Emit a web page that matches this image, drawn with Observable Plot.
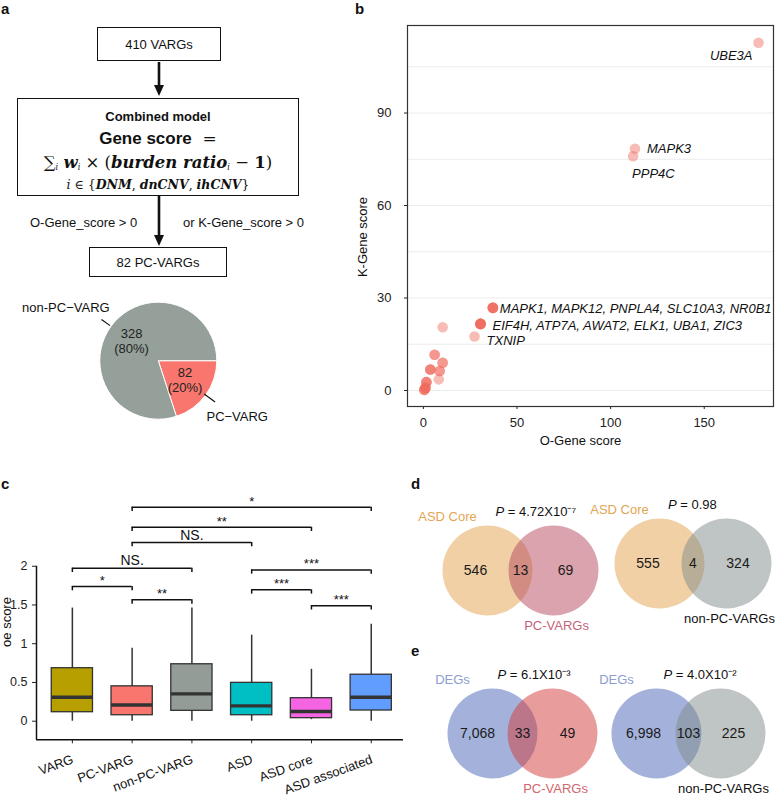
<!DOCTYPE html>
<html><head><meta charset="utf-8">
<script src="https://cdn.jsdelivr.net/npm/d3@7"></script>
<script src="https://cdn.jsdelivr.net/npm/@observablehq/plot@0.6"></script>
<style>
body{margin:0;background:#fff;font-family:"Liberation Sans",Arial,sans-serif;color:#111;}
#root{position:relative;width:776px;height:797px;overflow:hidden;background:#fff;}
.wrap{position:absolute;}
.wrap svg{max-width:none;display:block;}
.box{position:absolute;box-sizing:border-box;border:1.5px solid #111;display:flex;align-items:center;justify-content:center;font-size:13px;color:#111;background:#fff;}
.ln{position:absolute;left:0;width:100%;text-align:center;white-space:nowrap;transform:translateY(-50%);line-height:1;}
.txt{position:absolute;white-space:nowrap;font-size:13px;color:#111;transform:translateY(-50%);line-height:1;}
.vlab{position:absolute;white-space:nowrap;font-size:13px;color:#111;line-height:1;transform:translate(-50%,-50%) rotate(-90deg);}
.m{font-family:"DejaVu Serif",serif;}
.m sub{font-size:0.5em;vertical-align:-0.25em;font-style:italic;font-weight:normal;}
</style></head><body><div id="root"></div>
<script>
// ---------------- Panel a : pie data ----------------
const pieLabels = ["PC\u2212VARG", "non-PC\u2212VARG"];
const pieValues = [82, 328];
const pieColors = ["#F8766D", "#95A09A"];

// ---------------- Panel b : scatter data ----------------
const bGenes = ["UBE3A","MAPK3","PPP4C",
  "MAPK1","MAPK12","PNPLA4","SLC10A3","NR0B1",
  "EIF4H","ATP7A","AWAT2","ELK1","UBA1","ZIC3",
  "TXNIP",
  "", "", "", "", "", "", "", "", "", "", "", "", "", "", "", "", "", "", "", ""];
const bOScore = [179, 113, 112,
  37.1, 37.1, 37.1, 37.1, 37.1,
  30.5, 30.5, 30.5, 30.5, 30.5, 30.5,
  27.3,
  10.3, 6.0, 6.0, 10.3, 10.3, 3.7, 3.7, 3.7, 8.7, 8.7, 8.2, 1.6, 1.6, 1.6, 1.1, 1.1, 1.1, 0.5, 0.5, 0.5];
const bKScore = [112.8, 78.4, 76.0,
  26.8, 26.8, 26.8, 26.8, 26.8,
  21.6, 21.6, 21.6, 21.6, 21.6, 21.6,
  17.5,
  20.5, 11.6, 11.6, 9.0, 9.0, 6.8, 6.8, 6.8, 6.3, 6.3, 3.6, 2.7, 2.7, 2.7, 0.9, 0.9, 0.9, 0.2, 0.2, 0.2];
const bXTicks = [0, 50, 100, 150];
const bYTicks = [0, 30, 60, 90];

// ---------------- Panel c : box plot data ----------------
const cCategories = ["VARG", "PC-VARG", "non-PC-VARG", "ASD", "ASD core", "ASD associated"];
const cLowerWhisker = [0, 0, 0, 0, 0.02, 0];
const cQ1 = [0.116, 0.077, 0.134, 0.077, 0.039, 0.138];
const cMedian = [0.31, 0.21, 0.353, 0.198, 0.125, 0.31];
const cQ3 = [0.684, 0.45, 0.735, 0.495, 0.297, 0.60];
const cUpperWhisker = [1.46, 0.94, 1.46, 1.11, 0.67, 1.25];
const cColors = ["#B79F00", "#F8766D", "#949C97", "#00BFC4", "#F564E3", "#619CFF"];
const cYTicks = [0, 0.5, 1, 1.5, 2];
const cCompFrom = ["VARG", "PC-VARG", "VARG", "ASD", "ASD core", "ASD", "PC-VARG", "PC-VARG", "PC-VARG"];
const cCompTo = ["PC-VARG", "non-PC-VARG", "non-PC-VARG", "ASD core", "ASD associated", "ASD associated", "ASD", "ASD core", "ASD associated"];
const cCompHeight = [1.738, 1.566, 1.974, 1.695, 1.49, 1.953, 2.306, 2.503, 2.761];
const cCompLabel = ["*", "**", "NS.", "***", "***", "***", "NS.", "**", "*"];

// ---------------- Panels d, e : Venn data ----------------
const vennSetA = ["ASD Core", "ASD Core", "DEGs", "DEGs"];
const vennSetB = ["PC-VARGs", "non-PC-VARGs", "PC-VARGs", "non-PC-VARGs"];
const vennOnlyA = [546, 555, 7068, 6998];
const vennBoth = [13, 4, 33, 103];
const vennOnlyB = [69, 324, 49, 225];
const vennP = ["4.72X10\u207B\u2077", "0.98", "6.1X10\u207B\u00B3", "4.0X10\u207B\u00B2"];

// ================= layout helpers =================
const root = document.getElementById("root");
const FONT = "Liberation Sans, Arial, sans-serif";
function place(node, left, top, w, h) {
  const d = document.createElement("div");
  d.className = "wrap";
  d.style.left = left + "px"; d.style.top = top + "px";
  d.style.width = w + "px"; d.style.height = h + "px";
  d.appendChild(node);
  root.appendChild(d);
  return d;
}
function html(str) { root.insertAdjacentHTML("beforeend", str); }

// ================= Panel a : flowchart =================
html(`<div class="box" style="left:97px;top:27px;width:124px;height:34px;">410 VARGs</div>`);
html(`<div class="box" style="left:17px;top:98px;width:282px;height:98px;display:block;">
  <div class="ln" style="top:17px;font-weight:bold;font-size:13px;">Combined model</div>
  <div class="ln" style="top:38.5px;"><span style="font-weight:bold;font-size:17px;">Gene score</span><span class="m" style="font-size:17px;">&nbsp;&nbsp;=</span></div>
  <div class="ln m" style="top:63.5px;font-size:16.5px;">&sum;<sub>i</sub> <b><i>w</i></b><sub>i</sub> &times; (<b><i>burden ratio</i></b><sub>i</sub> &minus; <b>1</b>)</div>
  <div class="ln m" style="top:85.5px;font-size:12.5px;"><i>i</i> &isin; {<b><i>DNM</i></b>, <b><i>dnCNV</i></b>, <b><i>ihCNV</i></b>}</div>
</div>`);
html(`<div class="txt" style="left:30px;top:222px;">O-Gene_score &gt; 0</div>`);
html(`<div class="txt" style="left:183px;top:222px;">or K-Gene_score &gt; 0</div>`);
html(`<div class="box" style="left:89px;top:247px;width:138px;height:30px;">82 PC-VARGs</div>`);
html(`<svg class="wrap" style="left:0;top:0;" width="776" height="797" pointer-events="none">
  <g stroke="#111" stroke-width="2.6"><line x1="159" y1="62" x2="159" y2="87"/><line x1="159" y1="196" x2="159" y2="237"/></g>
  <g fill="#111"><path d="M154,85 L164,85 L159,96 Z"/><path d="M154,235 L164,235 L159,246 Z"/></g>
  <g font-family="${FONT}" font-weight="bold" font-size="15" fill="#111">
    <text x="1" y="14">a</text><text x="355" y="14">b</text><text x="1" y="489">c</text>
    <text x="411" y="489">d</text><text x="411" y="656">e</text>
  </g>
</svg>`);

// ================= Panel a : pie =================
const pieData = pieLabels.map((label, i) => ({label, value: pieValues[i], color: pieColors[i]}));
const pieTotal = d3.sum(pieValues);
const PIE_CX = 158.3, PIE_CY = 70.7, PIE_R = 58.5;
const piePlot = Plot.plot({
  width: 300, height: 150, margin: 0,
  style: {background: "none", fontFamily: FONT},
  marks: [
    () => {
      const g = d3.create("svg:g").attr("transform", `translate(${PIE_CX},${PIE_CY})`);
      const arcs = d3.pie().value(d => d.value).sort(null)
        .startAngle(Math.PI / 2).endAngle(Math.PI / 2 + 2 * Math.PI)(pieData);
      const arc = d3.arc().innerRadius(0).outerRadius(PIE_R);
      const inner = d3.arc().innerRadius(33).outerRadius(33);
      g.selectAll("path").data(arcs).join("path")
        .attr("d", arc).attr("fill", d => d.data.color).attr("stroke", "#fff").attr("stroke-width", 1);
      arcs.forEach(a => {
        const [cx, cy] = inner.centroid(a);
        const t = g.append("text").attr("text-anchor", "middle").attr("font-size", 13).attr("fill", "#222");
        t.append("tspan").attr("x", cx).attr("y", cy - 3).text(a.data.value);
        t.append("tspan").attr("x", cx).attr("y", cy + 12).text(`(${Math.round(a.data.value / pieTotal * 100)}%)`);
        const mid = (a.startAngle + a.endAngle) / 2;
        const sx = Math.sin(mid), sy = -Math.cos(mid);
        const r0 = PIE_R * (sx > 0 ? 0.97 : 1.02), r1 = PIE_R * 1.2;
        g.append("line").attr("x1", sx * r0).attr("y1", sy * r0).attr("x2", sx * r1).attr("y2", sy * r1)
          .attr("stroke", "#111").attr("stroke-width", 1.2);
        const lx = sx * PIE_R * 1.25, ly = sy * PIE_R * 1.25;
        const left = sx < 0;
        g.append("text").attr("font-size", 13).attr("fill", "#111")
          .attr("text-anchor", left ? "end" : "start")
          .attr("x", lx + (left ? 10.5 : -11)).attr("y", ly + (left ? -5.5 : 17.5))
          .text(a.data.label);
      });
      return g.node();
    }
  ]
});
place(piePlot, 0, 290, 300, 150);

// ================= Panel b : scatter =================
const scatter = bGenes.map((gene, i) => ({gene, o: bOScore[i], k: bKScore[i]}));
const labelGroups = d3.groups(scatter.filter(d => d.gene), d => d.o + "," + d.k)
  .map(([, pts]) => ({o: pts[0].o, k: pts[0].k, first: pts[0].gene, text: pts.map(p => p.gene).join(", ")}));
const nudge = {
  UBE3A: {textAnchor: "end", dx: -6, dy: 13},
  MAPK3: {textAnchor: "start", dx: 12, dy: 0},
  PPP4C: {textAnchor: "start", dx: -1, dy: 18},
  MAPK1: {textAnchor: "start", dx: 7, dy: 1},
  EIF4H: {textAnchor: "start", dx: 12, dy: 1.5},
  TXNIP: {textAnchor: "start", dx: 12, dy: 4.5}
};
const bGrid = d3.range(0, 106, 15);
const bXDomain = [-8.5, 187], bYDomain = [-5.2, 118.4];
const plotB = Plot.plot({
  width: 436, height: 460,
  marginLeft: 67, marginRight: 3, marginTop: 25, marginBottom: 54,
  style: {background: "none", fontFamily: FONT, fontSize: "13px", color: "#222"},
  x: {domain: bXDomain, ticks: bXTicks, tickSize: 3, tickPadding: 8, label: null},
  y: {domain: bYDomain, ticks: bYTicks, tickSize: 3, tickPadding: 13, label: null},
  marks: [
    Plot.ruleY(bGrid, {stroke: "#ececec", strokeWidth: 1}),
    Plot.dot(scatter, {x: "o", y: "k", r: 5.3, fill: "#EF6A5E", fillOpacity: 0.45, stroke: "none"}),
    Plot.frame({stroke: "#333", strokeWidth: 1.2}),
    ...labelGroups.map(l => Plot.text([l], {x: "o", y: "k", text: "text", fontStyle: "italic", fontSize: 13, fill: "#111", ...nudge[l.first]})),
    Plot.text(["O-Gene score"], {frameAnchor: "bottom", dy: 38, dx: -10, fontSize: 13, fill: "#111"})
  ]
});
place(plotB, 340, 0, 436, 460);
html(`<div class="vlab" style="left:362px;top:237px;">K-Gene score</div>`);

// ================= Panel c : box plot =================
const boxes = cCategories.map((name, i) => ({i, name, lo: cLowerWhisker[i], q1: cQ1[i], med: cMedian[i], q3: cQ3[i], hi: cUpperWhisker[i], color: cColors[i]}));
const HALF = 0.345;
const cXDomain = [-0.6, 5.54], cYDomain = [-0.24, 2.9];
const comps = cCompFrom.map((f, j) => ({x1: cCategories.indexOf(f), x2: cCategories.indexOf(cCompTo[j]), y: cCompHeight[j], label: cCompLabel[j]}));
const compEnds = comps.flatMap(c => [{x: c.x1, y: c.y}, {x: c.x2, y: c.y}]);
const plotC = Plot.plot({
  width: 410, height: 317,
  marginLeft: 36, marginRight: 7, marginTop: 16, marginBottom: 57.7,
  style: {background: "none", fontFamily: FONT, fontSize: "12.5px", color: "#222"},
  color: {type: "identity"},
  x: {domain: cXDomain, ticks: d3.range(cCategories.length), tickFormat: () => "", tickSize: 4, label: null},
  y: {domain: cYDomain, ticks: cYTicks, tickFormat: d => String(d), tickSize: 4, tickPadding: 5, label: null},
  marks: [
    Plot.ruleX([cXDomain[0]], {y1: cYDomain[0], y2: d3.max(cYTicks), stroke: "#111", strokeWidth: 1.5}),
    Plot.ruleY([cYDomain[0]], {x1: cXDomain[0], x2: cXDomain[1], stroke: "#111", strokeWidth: 1.5}),
    Plot.ruleX(boxes, {x: "i", y1: "lo", y2: "hi", stroke: "#333", strokeWidth: 1.5}),
    Plot.rect(boxes, {x1: d => d.i - HALF, x2: d => d.i + HALF, y1: "q1", y2: "q3", fill: "color", stroke: "#333", strokeWidth: 1.3}),
    Plot.ruleY(boxes, {y: "med", x1: d => d.i - HALF, x2: d => d.i + HALF, stroke: "#333", strokeWidth: 3.4}),
    Plot.ruleY(comps, {y: "y", x1: "x1", x2: "x2", stroke: "#111", strokeWidth: 1.5}),
    Plot.ruleX(compEnds, {x: "x", y1: d => d.y - 0.055, y2: "y", stroke: "#111", strokeWidth: 1.5}),
    Plot.text(comps.filter(c => c.label.startsWith("N")), {x: d => (d.x1 + d.x2) / 2, y: "y", text: "label", lineAnchor: "bottom", dy: -3, fontSize: 14, fill: "#111"}),
    Plot.text(comps.filter(c => c.label.startsWith("*")), {x: d => (d.x1 + d.x2) / 2, y: "y", text: "label", lineAnchor: "bottom", dy: -1.5, fontSize: 13, fill: "#111"}),
    Plot.text(boxes, {x: "i", frameAnchor: "bottom", text: "name", rotate: -20, textAnchor: "end", dx: 2, dy: 23, fontSize: 13, fill: "#111"})
  ]
});
place(plotC, 0, 480, 410, 317);
html(`<div class="vlab" style="left:6px;top:622px;">oe score</div>`);

// ================= Panels d, e : Venn diagrams =================
const vennLayout = [
  {cx: 487, cy: 570, sep: 66, colA: "#E2A24A", colB: "#B5485E", labA: "#E4A552", labB: "#C4637A"},
  {cx: 659, cy: 562.5, sep: 67, colA: "#E2A24A", colB: "#7F8989", labA: "#E4A552", labB: "#111"},
  {cx: 491.7, cy: 733, sep: 60, colA: "#4A66B8", colB: "#D43A3A", labA: "#8D9DD0", labB: "#D2666C"},
  {cx: 656, cy: 733, sep: 64, colA: "#4A66B8", colB: "#7F8989", labA: "#8D9DD0", labB: "#111"}
];
const VR = 45, VW = 240, VH = 170, VOX = 90, VOY = 85;
vennLayout.forEach((L, k) => {
  const sets = [{s: 0, color: L.colA}, {s: 1, color: L.colB}];
  const counts = [
    {x: 0.5 - VR / L.sep, n: vennOnlyA[k]},
    {x: 0.5, n: vennBoth[k]},
    {x: 0.5 + VR / L.sep, n: vennOnlyB[k]}
  ];
  const p = Plot.plot({
    width: VW, height: VH, margin: 0,
    style: {background: "none", fontFamily: FONT},
    color: {type: "identity"},
    x: {domain: [0, 1], range: [VOX, VOX + L.sep], axis: null},
    y: {domain: [-1, 1], range: [VOY + 64, VOY - 64], axis: null},
    marks: [
      Plot.dot(sets, {x: "s", y: () => 0, r: VR, fill: "color", fillOpacity: 0.5, stroke: "none"}),
      Plot.text(counts, {x: "x", y: () => 0, text: d => d3.format(",")(d.n), fontSize: 14, fill: "#1a1a1a"}),
      Plot.text([vennSetA[k]], {x: () => 0, y: () => 0, dx: -40, dy: -54, fontSize: 13, fill: L.labA}),
      Plot.text([vennSetB[k]], {x: () => 1, y: () => 0, dx: 3, dy: 55, fontSize: 13, fill: L.labB}),
      Plot.text(["P"], {x: () => 0.5, y: () => 0, dx: -25, dy: -59, textAnchor: "start", fontStyle: "italic", fontSize: 13, fill: "#111"}),
      Plot.text([" = " + vennP[k]], {x: () => 0.5, y: () => 0, dx: -16.3, dy: -59, textAnchor: "start", fontSize: 13, fill: "#111"})
    ]
  });
  place(p, L.cx - VOX, L.cy - VOY, VW, VH);
});
</script></body></html>
